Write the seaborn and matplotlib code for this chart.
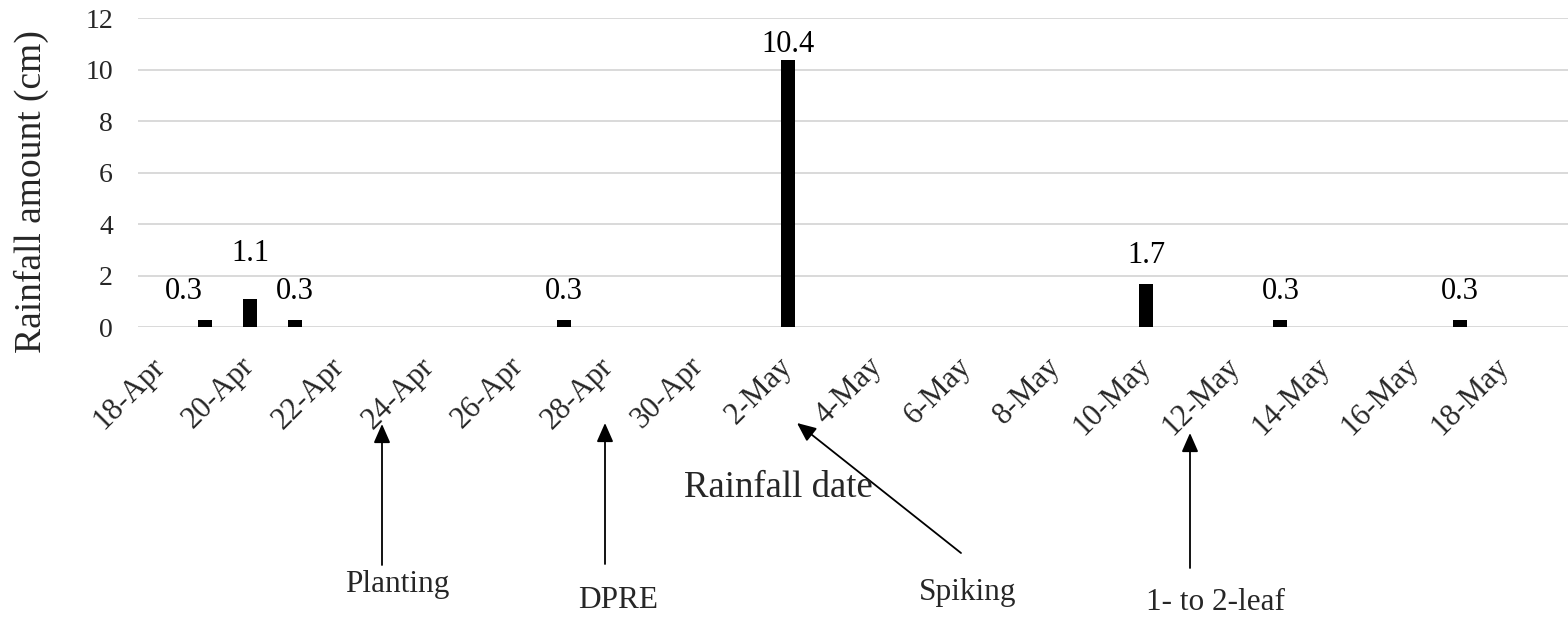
import matplotlib
matplotlib.use("Agg")
import matplotlib.pyplot as plt
import seaborn as sns
import pandas as pd
import numpy as np

# ---- data ----
start_date = "2019-04-18"
rain_dates = ["2019-04-19", "2019-04-20", "2019-04-21", "2019-04-27",
              "2019-05-02", "2019-05-10", "2019-05-13", "2019-05-17"]
rain_cm = [0.3, 1.1, 0.3, 0.3, 10.4, 1.7, 0.3, 0.3]
tick_labels = ["18-Apr", "20-Apr", "22-Apr", "24-Apr", "26-Apr", "28-Apr",
               "30-Apr", "2-May", "4-May", "6-May", "8-May", "10-May",
               "12-May", "14-May", "16-May", "18-May"]
events = ["Planting", "DPRE", "Spiking", "1- to 2-leaf"]

sns.set_theme(style="white")
plt.rcParams["font.family"] = ["Liberation Serif", "DejaVu Serif"]

day = (pd.to_datetime(rain_dates) - pd.Timestamp(start_date)).days.values
df = pd.DataFrame({"day": day, "rain": rain_cm})

W, H = 1568, 619
fig = plt.figure(figsize=(W / 100, H / 100), dpi=100)
ax = fig.add_axes([138 / W, 1 - 327.3 / H, 1 - 138 / W, (327.3 - 18.3) / H])

sns.barplot(data=df, x="day", y="rain", native_scale=True, width=0.31,
            color="black", saturation=1, edgecolor="black", linewidth=0, ax=ax)

ax.set_xlim(-0.5, 31.42)
ax.set_ylim(0, 12)
ax.set_yticks(np.arange(0, 13, 2))
ax.tick_params(axis="y", labelsize=20, length=0, pad=18)
ticks = np.arange(0, 2 * len(tick_labels), 2)
ax.set_xticks(ticks)
ax.set_xticklabels(tick_labels, rotation=45, ha="right", va="center",
                   rotation_mode="anchor", fontsize=22)
ax.tick_params(axis="x", length=0, pad=25)
ax.grid(axis="y", color="#d9d9d9", linewidth=1.4)
ax.set_axisbelow(True)
for s in ax.spines.values():
    s.set_visible(False)
ax.set_xlabel("")
ax.set_ylabel("")

# data labels (pixel offsets for manual placement)
offsets = {0: (-21, 28), 1: (0, 45), 4: (0, 15)}
for i, (x, v) in enumerate(zip(day, rain_cm)):
    dx, dy = offsets.get(i, (0, 28))
    ax.annotate(f"{v}", xy=(x, v), xytext=(dx * 0.72, dy * 0.72),
                textcoords="offset points", ha="center", va="center",
                fontsize=22, color="black")

# axis titles
fig.text(31 / W, 1 - 191.5 / H, "Rainfall amount (cm)", rotation=90,
         ha="center", va="center", fontsize=27)
fig.text(778 / W, 1 - 497 / H, "Rainfall date", ha="center", va="baseline",
         fontsize=26.5)

# event arrows (figure pixel positions)
arrows = [((382, 424), (382, 565), (397, 592)),
          ((605, 423), (605, 564), (618, 608)),
          ((797, 423), (961, 553), (968, 600)),
          ((1190, 433), (1190, 568), (1215, 610))]
for name, (tip, tail, txt) in zip(events, arrows):
    fig.add_artist(matplotlib.patches.FancyArrowPatch(
        (tail[0] / W, 1 - tail[1] / H), (tip[0] / W, 1 - tip[1] / H),
        transform=fig.transFigure,
        arrowstyle="-|>,head_length=0.5,head_width=0.22", mutation_scale=23,
        color="black", lw=1.3, shrinkA=0, shrinkB=0))
    fig.text(txt[0] / W, 1 - txt[1] / H, name, ha="center", va="baseline",
             fontsize=22.5)

fig.savefig("out.png", dpi=100)
